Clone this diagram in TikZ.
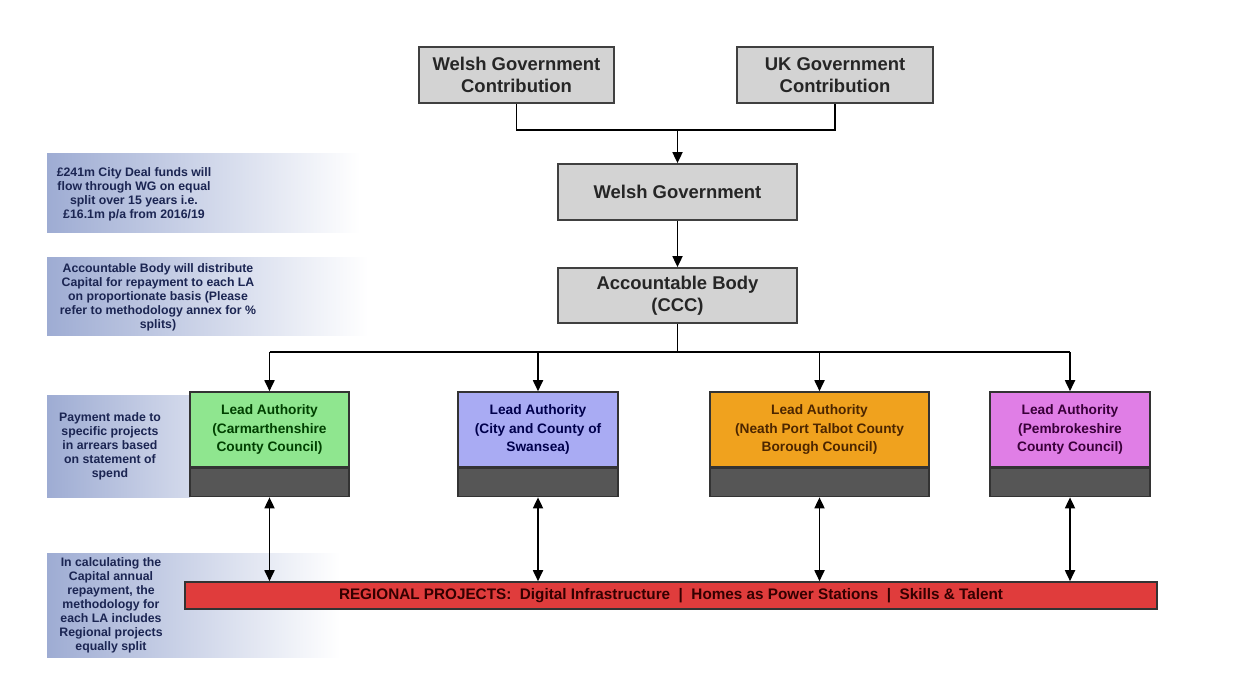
\documentclass[tikz,border=0pt]{standalone}
\usepackage{fontspec}
\setmainfont{Liberation Sans}
\usetikzlibrary{arrows.meta}
\definecolor{boxgrey}{HTML}{D3D3D3}
\definecolor{laGreen}{HTML}{8FE68F}
\definecolor{laBlue}{HTML}{A9ABF3}
\definecolor{laOrange}{HTML}{F0A21E}
\definecolor{laPink}{HTML}{E07EE6}
\definecolor{spendGrey}{HTML}{565656}
\definecolor{projRed}{HTML}{E03C3C}
\definecolor{noteBlue}{HTML}{9EACD3}
\definecolor{noteInk}{HTML}{1B2552}
\begin{document}
\begin{tikzpicture}[x=0.02cm, y=-0.02cm,
    greybox/.style={draw=black!75, fill=boxgrey, line width=1pt, inner sep=0pt,
        font=\fontsize{10.5}{12.3}\selectfont\bfseries, align=center, text=black!85},
    leadbox/.style={draw=black!80, line width=0.9pt, inner sep=0pt, minimum height=1.5cm,
        font=\fontsize{7.8}{10.4}\selectfont\bfseries, align=center},
    spendbox/.style={draw=black!80, fill=spendGrey, line width=0.9pt, inner sep=0pt,
        minimum height=0.56cm, anchor=north},
    notetext/.style={font=\fontsize{7}{8}\selectfont\bfseries, text=noteInk, align=center, inner sep=0pt},
    flow/.style={line width=1pt, -{Triangle[length=0.22cm, width=0.2cm]}},
    twoway/.style={line width=1pt, {Triangle[length=0.22cm, width=0.2cm]}-{Triangle[length=0.22cm, width=0.2cm]}}]

    \useasboundingbox (0,0) rectangle (1237,686);

    % side notes
    \shade[left color=noteBlue, right color=white] (47,153) rectangle (360,232);
    \shade[left color=noteBlue, right color=white] (47,257) rectangle (368,335);
    \shade[left color=noteBlue, right color=noteBlue!45] (47,395) rectangle (190,497);
    \shade[left color=noteBlue, right color=white] (47,553) rectangle (340,657);

    \node[notetext] (fundNote) at (134,194) {£241m City Deal funds will\\flow through WG on equal\\split over 15 years i.e.\\£16.1m p/a from 2016/19};
    \node[notetext] (bodyNote) at (158,297) {Accountable Body will distribute\\Capital for repayment to each LA\\on proportionate basis (Please\\refer to methodology annex for \%\\splits)};
    \node[notetext] (payNote) at (110,446) {Payment made to\\specific projects\\in arrears based\\on statement of\\spend};
    \node[notetext] (calcNote) at (111,605) {In calculating the\\Capital annual\\repayment, the\\methodology for\\each LA includes\\Regional projects\\equally split};

    % funding chain
    \node[greybox, minimum width=3.9cm, minimum height=1.12cm] (wgc) at (516.5,75) {Welsh Government\\Contribution};
    \node[greybox, minimum width=3.92cm, minimum height=1.12cm] (ukc) at (835,75) {UK Government\\Contribution};
    \node[greybox, minimum width=4.78cm, minimum height=1.12cm] (wg) at (677.5,192) {Welsh Government};
    \node[greybox, minimum width=4.78cm, minimum height=1.1cm] (ab) at (677.5,295.5) {Accountable Body\\(CCC)};

    \coordinate (join) at (677.5,130);
    \coordinate (split) at (677.5,352);

    % lead authorities
    \node[leadbox, fill=laGreen, text=green!25!black, minimum width=3.18cm] (la1) at (269.5,429.5) {Lead Authority\\(Carmarthenshire\\County Council)};
    \node[leadbox, fill=laBlue, text=blue!30!black, minimum width=3.2cm] (la2) at (538,429.5) {Lead Authority\\(City and County of\\Swansea)};
    \node[leadbox, fill=laOrange, text=orange!30!black, minimum width=4.38cm] (la3) at (819.5,429.5) {Lead Authority\\(Neath Port Talbot County\\Borough Council)};
    \node[leadbox, fill=laPink, text=violet!45!black, minimum width=3.2cm] (la4) at (1070,429.5) {Lead Authority\\(Pembrokeshire\\County Council)};
    \node[spendbox, minimum width=3.18cm] (la1b) at (la1.south) {};
    \node[spendbox, minimum width=3.2cm] (la2b) at (la2.south) {};
    \node[spendbox, minimum width=4.38cm] (la3b) at (la3.south) {};
    \node[spendbox, minimum width=3.2cm] (la4b) at (la4.south) {};

    \node[draw=black!80, fill=projRed, line width=0.9pt, inner sep=0pt, minimum width=19.44cm, minimum height=0.54cm,
        font=\fontsize{8.7}{9}\selectfont\bfseries, text=red!20!black] (proj) at (671,595.5)
        {REGIONAL PROJECTS:\ \ Digital Infrastructure\ \ |\ \ Homes as Power Stations\ \ |\ \ Skills \& Talent};

    % connectors
    \draw[line width=1pt] (wgc.south) |- (join) -| (ukc.south);
    \draw[flow] (join) -- (wg.north);
    \draw[flow] (wg.south) -- (ab.north);
    \draw[line width=1pt] (ab.south) -- (split);
    \draw[line width=1pt] (la1.north |- split) -- (la4.north |- split);
    \foreach \la in {la1,la2,la3,la4}
        \draw[flow] (\la.north |- split) -- (\la.north);
    \foreach \la in {la1b,la2b,la3b,la4b}
        \draw[twoway] (\la.south) -- (\la.south |- proj.north);
\end{tikzpicture}
\end{document}
